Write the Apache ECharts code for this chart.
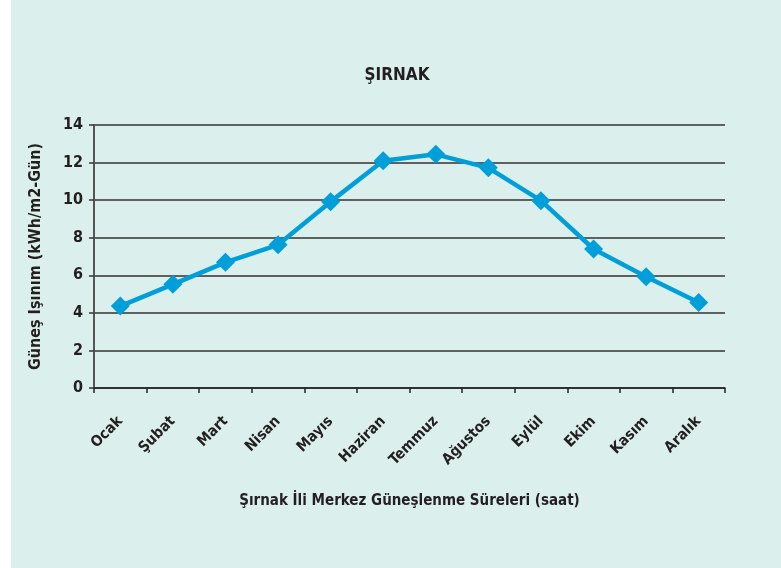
<!DOCTYPE html>
<html><head><meta charset="utf-8">
<script src="https://cdn.jsdelivr.net/npm/echarts@6/dist/echarts.min.js"></script>
<style>
html,body{margin:0;padding:0;background:#fff;}
#c{width:781px;height:568px;background:linear-gradient(to right,#ffffff 11px,#dbefec 11px);}
</style></head>
<body><div id="c"></div>
<script>
const months = ['Ocak','Şubat','Mart','Nisan','Mayıs','Haziran','Temmuz','Ağustos','Eylül','Ekim','Kasım','Aralık'];
const irradiance = [4.36, 5.52, 6.69, 7.62, 9.92, 12.1, 12.44, 11.72, 9.97, 7.4, 5.92, 4.55];
const yTicks = [0, 2, 4, 6, 8, 10, 12, 14];
const titleText = 'ŞIRNAK';
const yName = 'Güneş Işınım (kWh/m2-Gün)';
const xName = 'Şırnak İli Merkez Güneşlenme Süreleri (saat)';

const FONT = '"DejaVu Sans Condensed", "DejaVu Sans", sans-serif';
const chart = echarts.init(document.getElementById('c'));
chart.setOption({
  backgroundColor: 'transparent',
  animation: false,
  title: {text: titleText, left: 392, top: 62, textAlign: 'center',
    textStyle: {fontFamily: FONT, fontSize: 17, fontWeight: 'bold', color: '#231f20'}},
  grid: {left: 94, right: 56, top: 125, bottom: 180},
  xAxis: {
    type: 'category', data: months, boundaryGap: true,
    name: xName, nameLocation: 'middle', nameGap: 106,
    nameTextStyle: {fontFamily: FONT, fontSize: 15, fontWeight: 'bold', color: '#231f20'},
    axisLine: {lineStyle: {color: '#222', width: 1.5}},
    axisTick: {show: true, length: 5, lineStyle: {color: '#222', width: 1.5}},
    axisLabel: {rotate: 45, fontFamily: FONT, fontSize: 15, fontWeight: 'bold', color: '#231f20', margin: 31}
  },
  yAxis: {
    type: 'value', min: 0, max: 14, interval: 2,
    name: yName, nameLocation: 'middle', nameGap: 50, nameRotate: 90,
    nameTextStyle: {fontFamily: FONT, fontSize: 16, fontWeight: 'bold', color: '#231f20'},
    axisLine: {show: true, lineStyle: {color: '#555', width: 2}},
    axisTick: {show: true, length: 5, lineStyle: {color: '#333', width: 1.5}},
    axisLabel: {fontFamily: FONT, fontSize: 16, fontWeight: 'bold', color: '#231f20', margin: 11,
      formatter: v => yTicks.includes(v) ? String(v) : ''},
    splitLine: {lineStyle: {color: '#333', width: 1.5}}
  },
  series: [{
    type: 'line', data: irradiance,
    symbol: 'diamond', symbolSize: 19,
    lineStyle: {color: '#009fda', width: 4.5},
    itemStyle: {color: '#009fda'}
  }]
});
</script></body></html>
